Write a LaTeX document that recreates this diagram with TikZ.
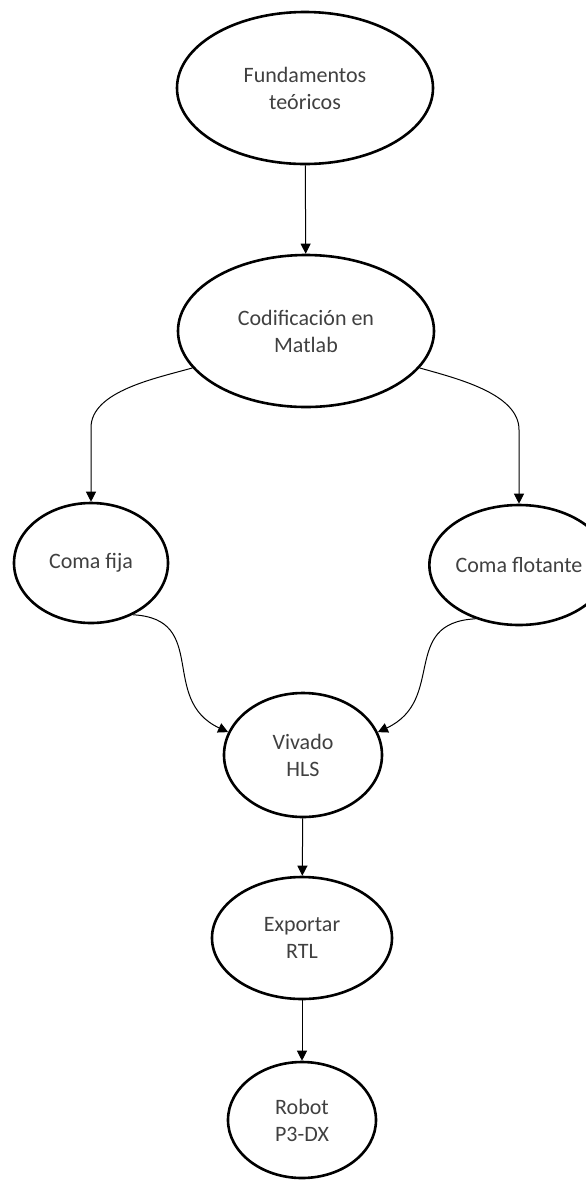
\documentclass[tikz,border=0pt]{standalone}
\usepackage{fontspec}
\setmainfont{Carlito}
\usetikzlibrary{shapes.geometric,arrows.meta}
\definecolor{textogris}{HTML}{404040}
\tikzset{
	estado/.style={ellipse, draw, line width=1.3pt, inner sep=0pt, align=center,
		text=textogris, font=\fontsize{11}{13.5}\selectfont},
	flecha/.style={-{Triangle[length=5pt,width=5pt]}, line width=0.5pt}
}

\begin{document}
\begin{tikzpicture}[x=0.5pt,y=-0.5pt]
	\useasboundingbox (0,0) rectangle (585,1180);
	\node[estado, minimum width=128pt, minimum height=76pt] (fund) at (305,88) {Fundamentos\\teóricos};
	\node[estado, minimum width=128pt, minimum height=76pt] (cod) at (306,331) {Codificación en\\Matlab};
	\node[estado, minimum width=77pt, minimum height=60pt] (fija) at (91,563) {Coma fija};
	\node[estado, minimum width=76pt, minimum height=60pt] (flot) at (519,565) {Coma flotante};
	\node[estado, minimum width=79pt, minimum height=62pt] (viv) at (303,755) {Vivado\\HLS};
	\node[estado, minimum width=90pt, minimum height=61pt] (exp) at (302,938) {Exportar\\RTL};
	\node[estado, minimum width=74pt, minimum height=58pt] (robot) at (302,1120) {Robot\\P3-DX};
	\draw[flecha] (fund) -- (cod);
	\draw[flecha] (cod.198) to[out=196,in=90,looseness=0.8] ([yshift=37pt]fija.north) -- (fija.north);
	\draw[flecha] (cod.342) to[out=-16,in=90,looseness=0.8] ([yshift=37pt]flot.north) -- (flot.north);
	\draw[flecha] (fija.309) to[out=-3,in=155,looseness=1.3] (viv.163);
	\draw[flecha] (flot.231) to[out=183,in=25,looseness=1.3] (viv.17);
	\draw[flecha] (viv) -- (exp);
	\draw[flecha] (exp) -- (robot);
\end{tikzpicture}
\end{document}
